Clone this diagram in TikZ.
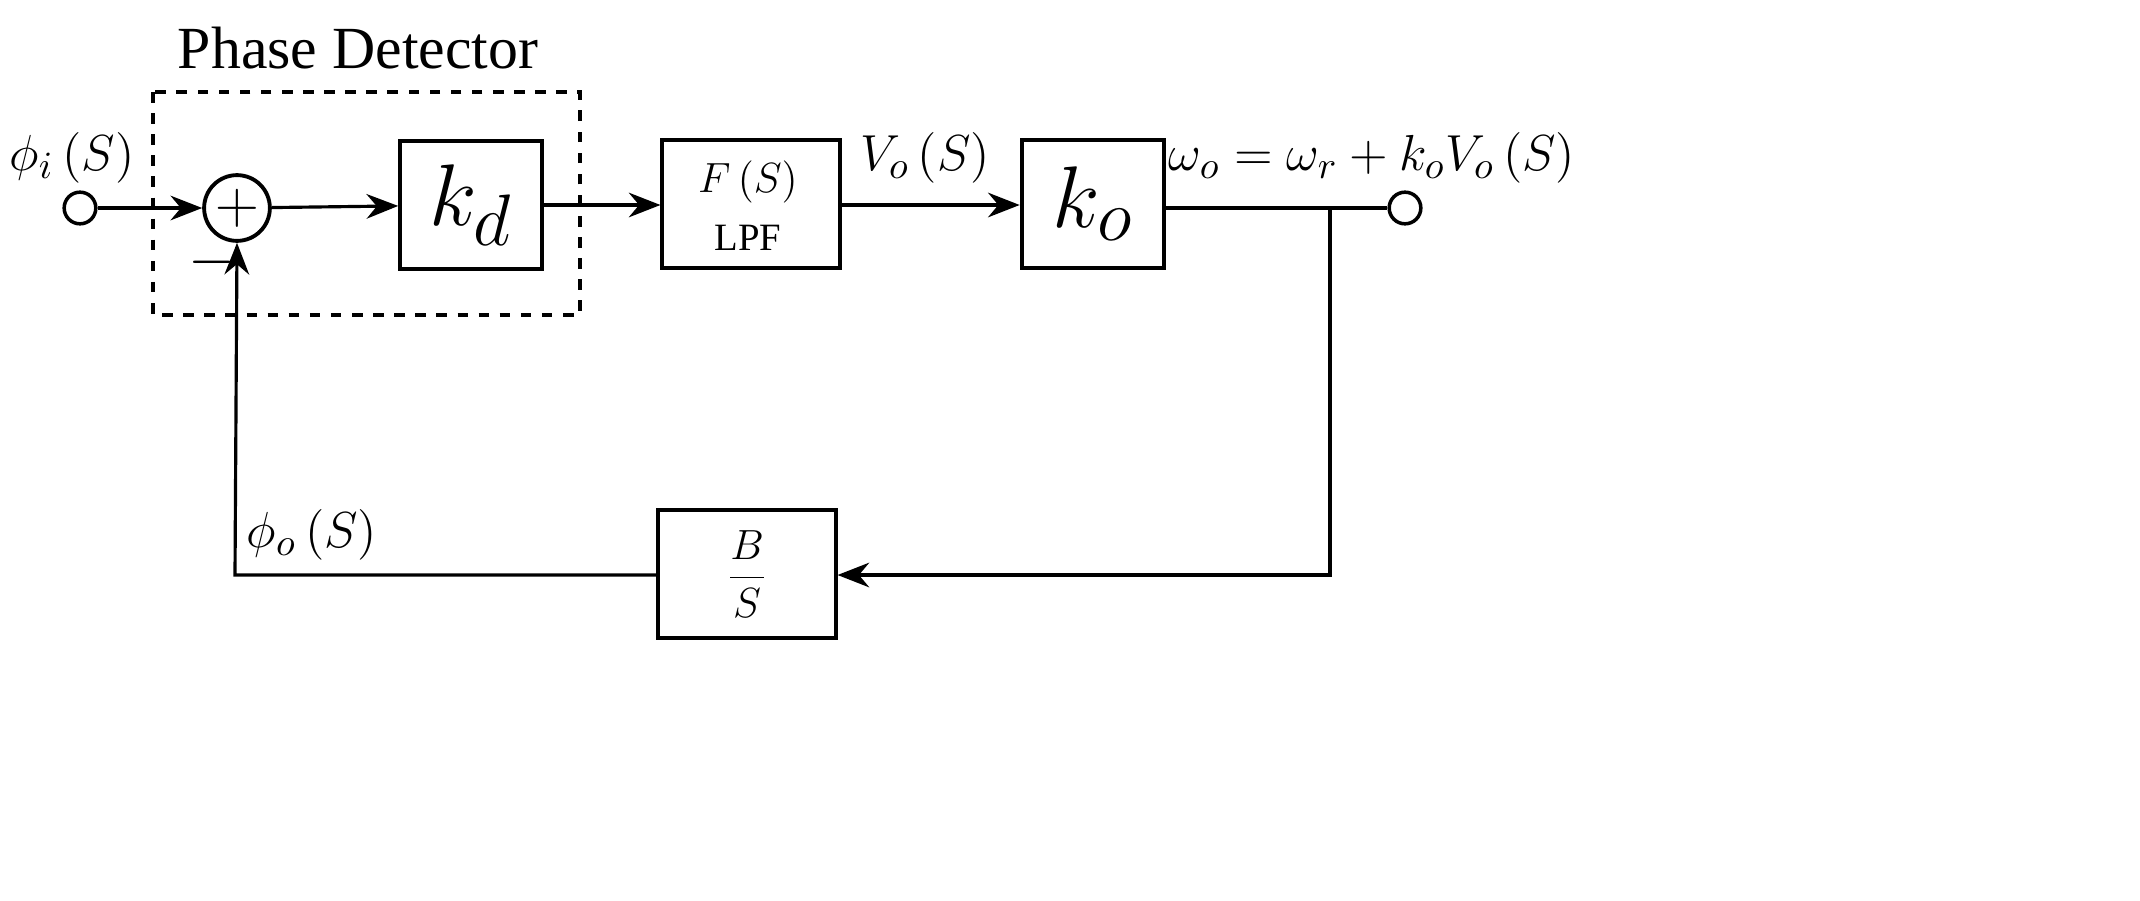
\documentclass[tikz,border=0pt]{standalone}
\usepackage{fontspec}
\setmainfont{Liberation Serif}
\usetikzlibrary{arrows.meta}
\begin{document}
\begin{tikzpicture}[x=0.01cm,y=-0.01cm,line width=0.9pt,
  arr/.style={-{Stealth[length=9pt,width=7pt]}},
  term/.style={draw,circle,inner sep=0pt,minimum size=9pt,line width=1pt,fill=white},
  box/.style={draw,line width=1.1pt,inner sep=0pt,minimum height=36.5pt},
  lbl/.style={font=\fontsize{15}{18}\selectfont}]
\useasboundingbox (0,0) rectangle (2140,900);
\draw[dashed,line width=1pt] (153,92) rectangle (580,315);
\node[font=\fontsize{17}{20}\selectfont] (pd) at (358,48) {Phase Detector};
\node[term] (in) at (80,208) {};
\node[draw,circle,inner sep=0pt,line width=1.1pt,minimum size=18.7pt,font=\fontsize{16}{16}\selectfont] (sum) at (237,208) {$+$};
\node[box,minimum width=40.3pt] (kd) at (471,205) {\fontsize{30}{30}\selectfont$k_d$};
\node[box,minimum width=50.4pt] (F) at (751,204) {};
\node[font=\fontsize{12}{14}\selectfont] (Ft) at (748,182) {$F\left(S\right)$};
\node[font=\fontsize{11}{13}\selectfont] (lpf) at (748,238) {LPF};
\node[box,minimum width=40.6pt] (ko) at (1093,204) {\fontsize{30}{30}\selectfont$k_o$};
\node[term] (out) at (1405,208) {};
\node[box,minimum width=50.4pt] (bs) at (747,574) {\fontsize{12}{14}\selectfont$\displaystyle\frac{B}{S}$};
\coordinate (br) at (1330,208);
\coordinate (brd) at (1330,575);
\coordinate (fbl) at (235,575);
\draw[arr] (in) -- (sum);
\draw[arr] (sum) -- (kd);
\draw[arr] (kd) -- (F.west |- kd);
\draw[arr] (F.east |- kd) -- (ko.west |- kd);
\draw (ko.east |- out) -- (out);
\draw[arr] (br) -- (brd) -- (bs.east |- brd);
\draw[arr] (bs.west |- fbl) -- (fbl) -- (sum.south);
\node[lbl] (phii) at (72,158) {$\phi_i\left(S\right)$};
\node[lbl] (vo) at (925,158) {$V_o\left(S\right)$};
\node[lbl] (om) at (1372,158) {$\omega_o=\omega_r+k_oV_o\left(S\right)$};
\node[lbl] (phio) at (312,535) {$\phi_o\left(S\right)$};
\node[font=\fontsize{16}{16}\selectfont] (minus) at (212,262) {$-$};
\end{tikzpicture}
\end{document}
